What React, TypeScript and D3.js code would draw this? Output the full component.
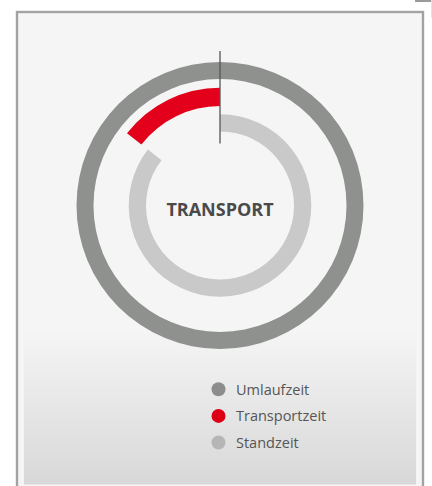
import React from "react";
import * as d3 from "d3";

const categories = ["Umlaufzeit", "Transportzeit", "Standzeit"];
const values = [100, 14.5, 85.5];
const colors = ["#8f918f", "#e2001a", "#c8c9c8"];
const legendColors = ["#8c8d8c", "#dc0012", "#b5b6b5"];
const centerLabel = "TRANSPORT";

export default function App() {
  const W = 432, H = 486;
  const cx = 220, cy = 205.5;
  const total = values[0];
  const angle = d3.scaleLinear().domain([0, total]).range([0, 2 * Math.PI]);

  const outerArc = d3.arc()({ innerRadius: 126.5, outerRadius: 143.5, startAngle: 0, endAngle: angle(values[0]) } as any);
  const redArc = d3.arc()({ innerRadius: 99.5, outerRadius: 117.7, startAngle: -angle(values[1]), endAngle: 0 } as any);
  const grayArc = d3.arc()({ innerRadius: 74, outerRadius: 91.3, startAngle: 0, endAngle: angle(values[2]) } as any);

  const legendY = d3.scalePoint<string>().domain(categories).range([389.3, 442.5]);

  return (
    <svg width={W} height={H} style={{ position: "absolute", left: 0, top: 0 }}>
      <defs>
        <linearGradient id="bg" x1="0" y1="0" x2="0" y2="1">
          <stop offset="0" stopColor="#f5f5f5" />
          <stop offset="1" stopColor="#d8d8d8" />
        </linearGradient>
      </defs>
      <rect x={0} y={0} width={W} height={H} fill="#ffffff" />
      <rect x={415} y={0} width={17} height={2} fill="#9a9a9a" />
      <line x1={431.5} y1={0} x2={431.5} y2={18} stroke="#e4e4e4" strokeWidth={1} />
      <rect x={17} y={12} width={406} height={H} fill="#f5f5f5" stroke="#a3a3a3" strokeWidth={2.4} />
      <rect x={24} y={330} width={392} height={154.5} fill="url(#bg)" />
      <g transform={`translate(${cx},${cy})`}>
        <path d={outerArc as string} fill={colors[0]} />
        <path d={redArc as string} fill={colors[1]} />
        <path d={grayArc as string} fill={colors[2]} />
        <line x1={0} y1={-154.5} x2={0} y2={-62} stroke="#555555" strokeWidth={1.3} />
        <text
          x={0}
          y={10.3}
          textAnchor="middle"
          fontFamily="'Open Sans', sans-serif"
          fontWeight={700}
          fontSize={18}
          fill="#4a4a4a"
        >
          {centerLabel}
        </text>
      </g>
      {categories.map((c, i) => (
        <g key={c}>
          <circle cx={218.5} cy={legendY(c)} r={7} fill={legendColors[i]} />
          <text
            x={236}
            y={(legendY(c) as number) + 5.5}
            fontFamily="'Open Sans', sans-serif"
            fontSize={14.5}
            fill="#555555"
          >
            {c}
          </text>
        </g>
      ))}
    </svg>
  );
}
